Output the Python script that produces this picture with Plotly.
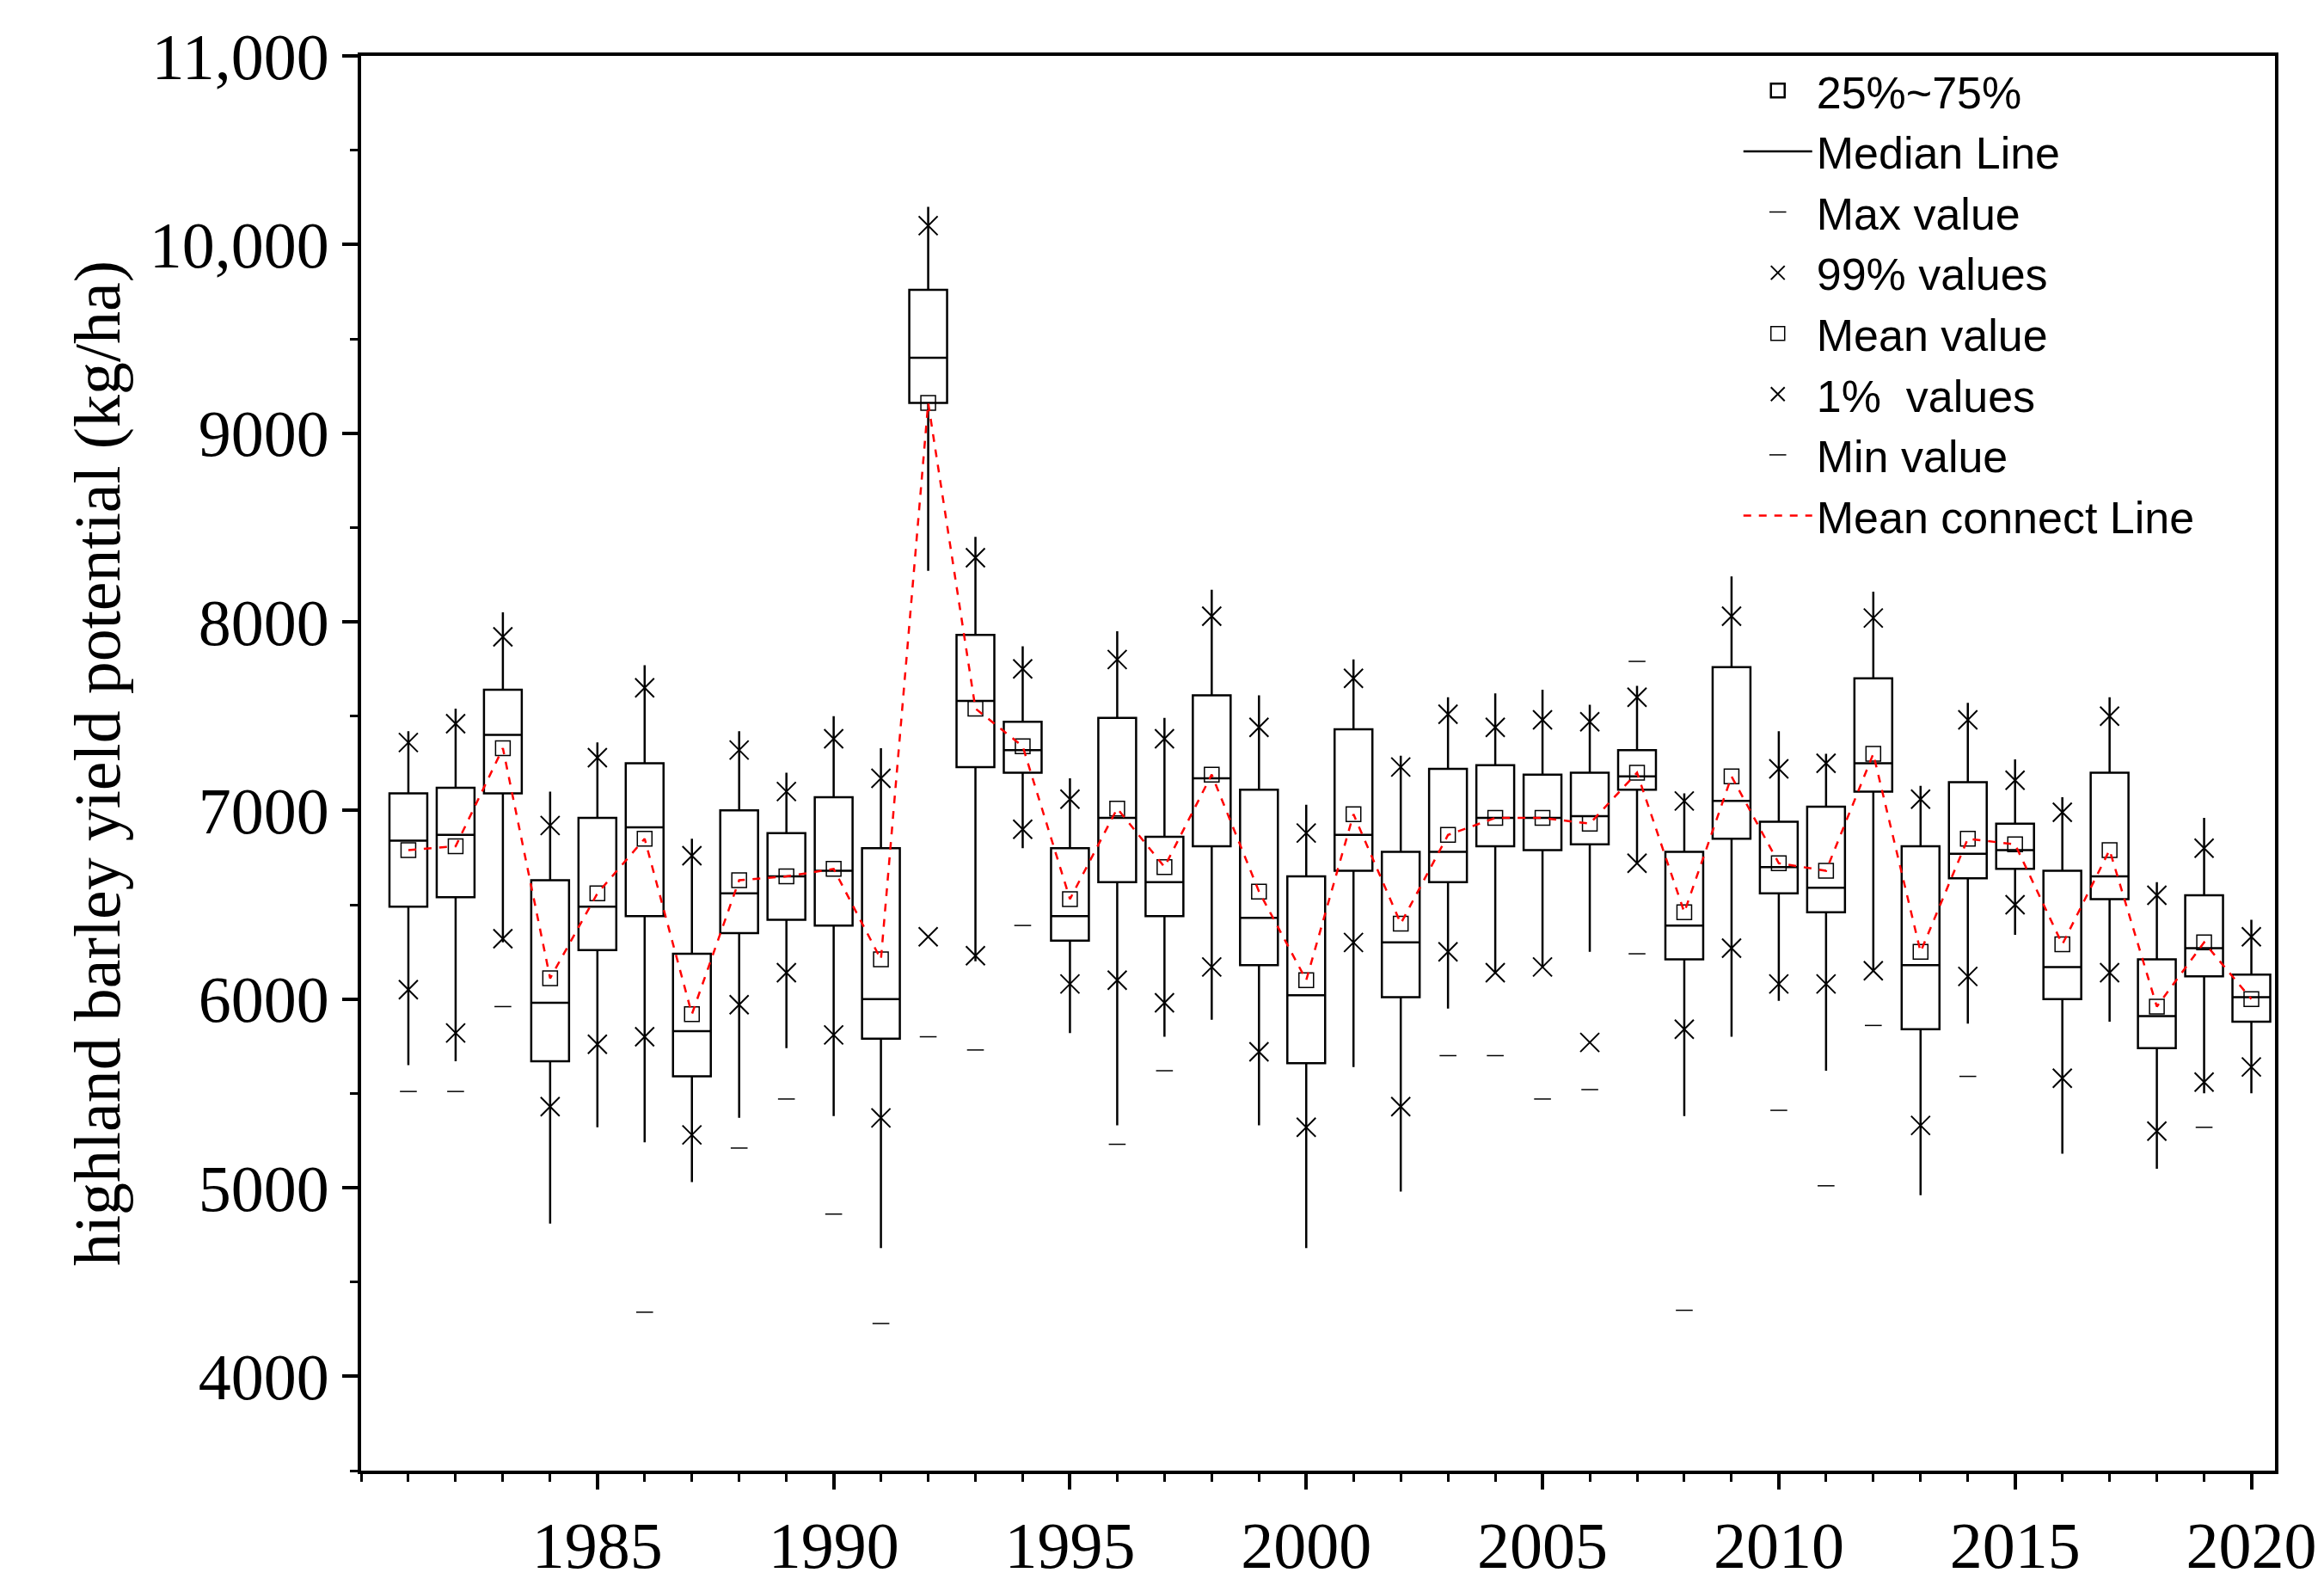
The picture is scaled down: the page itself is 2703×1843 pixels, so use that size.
import plotly.graph_objs as go

years = list(range(1981, 2021))
upper = [7420, 7540, 8050, 7100, 7360, 7770, 6850, 7420, 7200, 7500, 7330, 10200, 8450, 7870, 7170, 7950, 7490, 8170, 7610, 7030,
         7800, 7290, 7600, 7620, 7640, 7560, 7660, 7090, 8240, 7420, 7300, 8160, 7130, 7570, 7270, 7070, 7600, 6620, 6960, 6420]
q3 = [7090, 7120, 7640, 6630, 6960, 7250, 6240, 7000, 6880, 7070, 6800, 9760, 7930, 7470, 6800, 7490, 6860, 7610, 7110, 6650,
      7430, 6780, 7220, 7240, 7190, 7200, 7320, 6780, 7760, 6940, 7020, 7700, 6810, 7150, 6930, 6680, 7200, 6210, 6550, 6130]
median = [6840, 6870, 7400, 5980, 6490, 6910, 5830, 6560, 6650, 6680, 6000, 9400, 7580, 7320, 6440, 6960, 6620, 7170, 6430, 6020,
          6870, 6300, 6780, 6960, 6960, 6970, 7180, 6390, 7050, 6700, 6590, 7250, 6180, 6770, 6790, 6170, 6650, 5910, 6270, 6010]
mean = [6790, 6810, 7330, 6110, 6560, 6850, 5920, 6630, 6650, 6690, 6210, 9160, 7540, 7340, 6530, 7010, 6700, 7190, 6570, 6100,
        6980, 6400, 6870, 6960, 6960, 6930, 7200, 6460, 7180, 6720, 6680, 7300, 6250, 6850, 6820, 6290, 6790, 5960, 6300, 6000]
q1 = [6490, 6540, 7090, 5670, 6260, 6440, 5590, 6350, 6420, 6390, 5790, 9160, 7230, 7200, 6310, 6620, 6440, 6810, 6180, 5660,
      6680, 6010, 6620, 6810, 6790, 6820, 7110, 6210, 6850, 6560, 6460, 7100, 5840, 6640, 6690, 6000, 6530, 5740, 6120, 5880]
lower = [5650, 5670, 6300, 4810, 5320, 5240, 5030, 5370, 5740, 5380, 4680, 8270, 6200, 6800, 5820, 5330, 5800, 5890, 5330, 4680,
         5640, 4980, 5950, 6140, 6170, 6250, 6720, 5380, 5800, 5990, 5620, 6150, 4960, 5870, 6340, 5180, 5880, 5100, 5500, 5500]
p99 = [7360, 7460, 7920, 6920, 7280, 7650, 6760, 7320, 7100, 7380, 7170, 10100, 8340, 7750, 7060, 7800, 7380, 8030, 7440, 6880,
       7700, 7230, 7510, 7440, 7480, 7470, 7600, 7050, 8030, 7220, 7250, 8020, 7060, 7480, 7160, 6990, 7500, 6550, 6800, 6330]
p1 = [6050, 5820, 6320, 5430, 5760, 5800, 5280, 5970, 6140, 5810, 5370, 6330, 6230, 6900, 6080, 6100, 5980, 6170, 5720, 5320,
      6300, 5430, 6250, 6140, 6170, 5770, 6720, 5840, 6270, 6080, 6080, 6150, 5330, 6120, 6500, 5580, 6140, 5300, 5560, 5640]
min_val = [5510, 5510, 5960, None, None, 4340, None, 5210, 5470, 4860, 4280, 5800, 5730, 6390, None, 5230, 5620, None, None, None,
           None, None, 5700, 5700, 5470, 5520, 6240, 4350, None, 5410, 5010, 5860, None, 5590, None, None, None, None, 5320, None]
max_val = [None] * 26 + [7790] + [None] * 13

fig = go.Figure()
fig.add_trace(go.Box(x=years, q1=q1, median=median, q3=q3, lowerfence=lower, upperfence=upper,
                     boxpoints=False, width=0.8, fillcolor='white', whiskerwidth=0,
                     line=dict(color='black', width=2.5), showlegend=False))
# legend-only stand-in for the box symbol
fig.add_trace(go.Scatter(x=[None], y=[None], mode='markers', name='25%~75%',
                         marker=dict(symbol='square-open', size=40, color='black', line=dict(width=2.5))))
fig.add_trace(go.Scatter(x=[None], y=[None], mode='lines', line=dict(color='black', width=2.5), name='Median Line'))
fig.add_trace(go.Scatter(x=years, y=max_val, mode='markers', name='Max value',
                         marker=dict(symbol='line-ew-open', size=14, color='black', line=dict(color='black', width=1.5))))
fig.add_trace(go.Scatter(x=years, y=p99, mode='markers', name='99% values',
                         marker=dict(symbol='x-thin-open', size=22, color='black', line=dict(color='black', width=2))))
fig.add_trace(go.Scatter(x=years, y=mean, mode='markers', name='Mean value',
                         marker=dict(symbol='square-open', size=17, color='black', line=dict(width=1.5))))
fig.add_trace(go.Scatter(x=years, y=p1, mode='markers', name='1%  values',
                         marker=dict(symbol='x-thin-open', size=22, color='black', line=dict(color='black', width=2))))
fig.add_trace(go.Scatter(x=years, y=min_val, mode='markers', name='Min value',
                         marker=dict(symbol='line-ew-open', size=14, color='black', line=dict(color='black', width=1.5))))
fig.add_trace(go.Scatter(x=years, y=mean, mode='lines', name='Mean connect Line',
                         line=dict(color='red', width=2.5, dash='dash')))

tickvals = list(range(4000, 11001, 1000))
ticktext = ['4000', '5000', '6000', '7000', '8000', '9000', '10,000', '11,000']
axis_font = dict(family='Liberation Serif', size=76, color='black')

fig.update_layout(
    width=2703, height=1843, plot_bgcolor='white', paper_bgcolor='white',
    margin=dict(l=412, r=65, t=57, b=131),
    font=dict(family='Liberation Serif', color='black'),
    legend=dict(x=0.72, y=1.0, xanchor='left', yanchor='top', bgcolor='rgba(0,0,0,0)', itemwidth=80,
                font=dict(family='Liberation Sans', size=52, color='black'), tracegroupgap=0),
    xaxis=dict(range=[1980, 2020.5], tickvals=list(range(1985, 2021, 5)), tickfont=axis_font,
               showgrid=False, zeroline=False, showline=True, mirror=True, linecolor='black', linewidth=4,
               ticks='outside', ticklen=18, tickwidth=4, tickcolor='black',
               minor=dict(dtick=1, ticks='outside', ticklen=9, tickwidth=3, tickcolor='black', showgrid=False)),
    yaxis=dict(range=[3500, 11000], tickvals=tickvals, ticktext=ticktext, tickfont=axis_font,
               title=dict(text='highland barley yield potential (kg/ha)', font=axis_font, standoff=10),
               showgrid=False, zeroline=False, showline=True, mirror=True, linecolor='black', linewidth=4,
               ticks='outside', ticklen=18, tickwidth=4, tickcolor='black',
               minor=dict(dtick=500, ticks='outside', ticklen=9, tickwidth=3, tickcolor='black', showgrid=False)),
)

fig.write_html('out.html')
